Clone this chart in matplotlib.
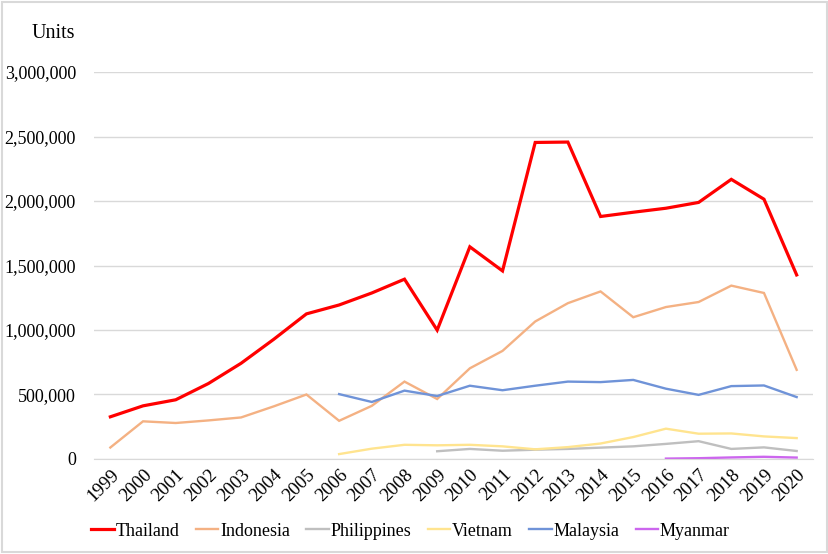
import numpy as np
import matplotlib
matplotlib.use('Agg')
import matplotlib.pyplot as plt
from matplotlib.ticker import FuncFormatter
from matplotlib.patches import Rectangle

nan = np.nan
years = list(range(1999, 2021))

thailand = [327000, 412000, 459000, 585000, 742000, 928000, 1125000, 1194000, 1287000, 1394000,
            999000, 1645000, 1458000, 2454000, 2457000, 1880000, 1913000, 1944000, 1989000,
            2168000, 2014000, 1427000]
indonesia = [89000, 292000, 279000, 299000, 322000, 408000, 500000, 296000, 412000, 600000,
             465000, 703000, 838000, 1066000, 1208000, 1299000, 1099000, 1178000, 1217000,
             1344000, 1287000, 691000]
philippines = [nan] * 10 + [60000, 78000, 64000, 72000, 78000, 88000, 98000, 117000, 138000,
                            78000, 90000, 62000]
vietnam = [nan] * 7 + [38000, 80000, 110000, 106000, 110000, 98000, 75000, 92000, 120000,
                       170000, 235000, 196000, 198000, 175000, 162000]
malaysia = [nan] * 7 + [503000, 442000, 530000, 488000, 568000, 533000, 568000, 600000, 596000,
                        613000, 545000, 497000, 565000, 570000, 480000]
myanmar = [nan] * 17 + [3000, 6000, 12000, 17000, 11000]

series = [
    ('Thailand', thailand, '#ff0000', 2.3),
    ('Indonesia', indonesia, '#f4b183', 1.7),
    ('Philippines', philippines, '#bfbfbf', 1.7),
    ('Vietnam', vietnam, '#ffe48f', 1.7),
    ('Malaysia', malaysia, '#6f93d8', 1.7),
    ('Myanmar', myanmar, '#cc66ee', 1.7),
]

plt.rcParams['font.family'] = ['Liberation Serif', 'DejaVu Serif']

fig = plt.figure(figsize=(8.29, 5.54), dpi=100)
ax = fig.add_axes([0.1134, 0.1715, 0.8673, 0.6985])

x = np.arange(len(years))
for name, vals, col, lw in series:
    ax.plot(x, vals, color=col, lw=lw, label=name, solid_joinstyle='miter')

ax.set_xlim(-0.5, len(years) - 0.5)
ax.set_ylim(0, 3000000)
ax.set_yticks(np.arange(0, 3000001, 500000))
ax.yaxis.set_major_formatter(FuncFormatter(lambda v, p: f'{int(v):,}'))
ax.set_xticks(x)
ax.set_xticklabels([str(y) for y in years], rotation=45, ha='right', va='top',
                   rotation_mode='anchor')
ax.tick_params(axis='both', length=0, colors='black')
ax.tick_params(axis='y', labelsize=13, pad=13)
ax.tick_params(axis='x', labelsize=13.5, pad=5)
ax.grid(axis='y', color='#d9d9d9', lw=1)
ax.set_axisbelow(True)
for s in ['top', 'right', 'left']:
    ax.spines[s].set_visible(False)
ax.spines['bottom'].set_color('#d9d9d9')

fig.text(0.091, 0.94, 'Units', fontsize=14.5, ha='right', va='center')

fig.legend(loc='center', bbox_to_anchor=(0.4953, 0.041), ncol=6, frameon=False,
           fontsize=13, handlelength=1.25, handletextpad=0.1, columnspacing=0.9)

fig.patches.append(Rectangle((0.002, 0.003), 0.996, 0.994, transform=fig.transFigure,
                             fill=False, edgecolor='#d9d9d9', lw=1.5))

fig.savefig('out.png', dpi=100)
